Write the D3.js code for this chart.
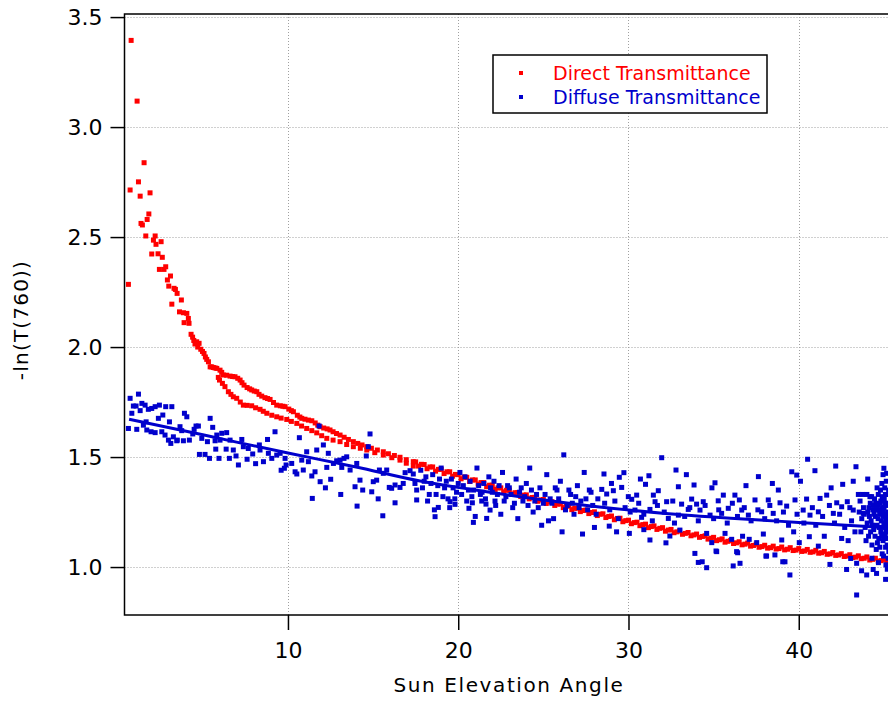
<!DOCTYPE html>
<html>
<head>
<meta charset="utf-8">
<script src="https://cdn.jsdelivr.net/npm/d3@7.9.0/dist/d3.min.js"></script>
<style>
  html, body { margin: 0; padding: 0; background: #fff; }
  svg { display: block; font-family: "DejaVu Sans", sans-serif; }
</style>
</head>
<body>
<svg id="chart" width="888" height="701"></svg>
<script>
// DATA
const xTicks = [10, 20, 30, 40];
const yTicks = [1.0, 1.5, 2.0, 2.5, 3.0, 3.5];
const seriesNames = ['Direct Transmittance', 'Diffuse Transmittance'];
const seriesColors = ['#ff0000', '#0000cc'];

// direct transmittance: [sun elevation, -ln(T)]
const direct = [
  [0.63,2.285],[0.73,2.714],[0.79,3.394],[1.14,3.118],[1.22,2.751],[1.32,2.686],[1.37,2.562],[1.45,2.555],
  [1.55,2.838],[1.65,2.505],[1.73,2.580],[1.83,2.605],[1.90,2.701],[2.0,2.423],[2.1,2.486],[2.2,2.505],
  [2.25,2.467],[2.37,2.424],[2.45,2.353],[2.55,2.479],[2.62,2.408],[2.72,2.353],[2.82,2.365],[2.92,2.305],
  [3.0,2.277],[3.1,2.323],[3.18,2.195],[3.31,2.267],[3.39,2.262],[3.49,2.244],[3.63,2.160],[3.74,2.214],
  [3.86,2.156],[3.9,2.111],[4.06,2.153],[4.15,2.130],[4.19,2.108],[4.31,2.058],[4.4,2.045],[4.47,2.03],
  [4.54,2.014],[4.64,2.024],[4.7,2.0],[4.78,2.017],[4.88,1.990],[4.98,1.98],[5.07,1.971],[5.15,1.955],
  [5.23,1.944],[5.33,1.933],[5.43,1.910],[5.52,1.91],[5.62,1.907],[5.72,1.905],[5.82,1.903],[5.91,1.862],
  [6.01,1.895],
  // upper branch
  [6.11,1.885],[6.21,1.873],[6.4,1.872],[6.6,1.868],[6.75,1.866],[6.89,1.865],[7.05,1.858],[7.19,1.850],
  [7.3,1.838],[7.42,1.827],[7.6,1.816],[7.75,1.81],[7.87,1.805],[8.02,1.8],[8.17,1.797],[8.3,1.785],
  [8.46,1.777],[8.65,1.77],[8.8,1.766],[8.95,1.762],[9.15,1.748],[9.34,1.736],[9.55,1.733],[9.7,1.731],
  [9.83,1.729],[10.05,1.718],[10.2,1.711],[10.32,1.706],[10.55,1.69],[10.7,1.682],[10.81,1.676],[11.0,1.672],
  [11.2,1.668],[11.4,1.665],[11.6,1.655],[11.75,1.645],[11.89,1.638],[12.1,1.632],[12.3,1.628],[12.47,1.623],
  [12.65,1.615],[12.85,1.607],[13.06,1.6],[13.3,1.59],[13.55,1.58],[13.84,1.570],[14.1,1.562],[14.35,1.555],
  [14.63,1.547],[14.9,1.54],[15.25,1.532],[15.6,1.524],[15.9,1.515],[16.25,1.507],[16.58,1.499],[16.95,1.488],
  [17.36,1.479],
  // lower branch
  [5.98,1.85],[6.15,1.835],[6.3,1.82],[6.5,1.797],[6.65,1.785],[6.79,1.774],[6.99,1.767],[7.2,1.75],
  [7.38,1.736],[7.6,1.735],[7.87,1.733],[8.1,1.724],[8.36,1.717],[8.55,1.708],[8.76,1.699],[9.05,1.69],
  [9.34,1.683],[9.6,1.677],[9.93,1.671],[10.2,1.662],[10.52,1.653],[10.8,1.641],[11.1,1.63],[11.4,1.62],
  [11.69,1.61],[11.98,1.597],[12.28,1.585],[12.65,1.577],[13.06,1.57],[13.45,1.557],[13.84,1.547],[14.25,1.54],
  [14.63,1.532],[15.1,1.52],[15.6,1.509],[16.1,1.497],[16.58,1.486],[16.95,1.472],[17.36,1.459],
  // merged band
  [17.5,1.478],[17.67,1.459],[17.84,1.467],[18.0,1.466],[18.17,1.447],[18.34,1.455],[18.5,1.455],[18.67,1.436],
  [18.84,1.444],[19.0,1.444],[19.17,1.425],[19.34,1.433],[19.5,1.433],[19.67,1.413],[19.84,1.421],[20.0,1.420],
  [20.17,1.401],[20.34,1.409],[20.5,1.408],[20.67,1.389],[20.84,1.396],[21.0,1.396],[21.17,1.377],[21.34,1.384],
  [21.5,1.384],[21.67,1.365],[21.84,1.372],[22.0,1.372],[22.17,1.353],[22.34,1.360],[22.5,1.360],[22.67,1.342],
  [22.84,1.349],[23.0,1.350],[23.17,1.332],[23.34,1.338],[23.5,1.339],[23.67,1.321],[23.84,1.327],[24.0,1.328],
  [24.17,1.310],[24.34,1.316],[24.5,1.317],[24.67,1.299],[24.84,1.305],[25.0,1.307],[25.17,1.289],[25.34,1.296],
  [25.5,1.297],[25.67,1.280],[25.84,1.286],[26.0,1.287],[26.17,1.270],[26.34,1.276],[26.5,1.278],[26.67,1.261],
  [26.84,1.267],[27.0,1.268],[27.17,1.252],[27.34,1.257],[27.5,1.259],[27.67,1.243],[27.84,1.248],[28.0,1.251],
  [28.17,1.234],[28.34,1.240],[28.5,1.242],[28.67,1.225],[28.84,1.230],[29.0,1.232],[29.17,1.215],[29.34,1.221],
  [29.5,1.222],[29.67,1.206],[29.84,1.211],[30.0,1.213],[30.17,1.197],[30.34,1.202],[30.5,1.204],[30.67,1.188],
  [30.84,1.193],[31.0,1.195],[31.17,1.179],[31.34,1.184],[31.5,1.187],[31.67,1.171],[31.84,1.176],[32.0,1.179],
  [32.17,1.163],[32.34,1.168],[32.5,1.171],[32.67,1.156],[32.84,1.160],[33.0,1.164],[33.17,1.149],[33.34,1.153],
  [33.5,1.157],[33.67,1.142],[33.84,1.146],[34.0,1.150],[34.17,1.135],[34.34,1.139],[34.5,1.142],[34.67,1.127],
  [34.84,1.131],[35.0,1.135],[35.17,1.120],[35.34,1.124],[35.5,1.128],[35.67,1.113],[35.84,1.117],[36.0,1.121],
  [36.17,1.107],[36.34,1.110],[36.5,1.115],[36.67,1.101],[36.84,1.104],[37.0,1.109],[37.17,1.095],[37.34,1.098],
  [37.5,1.104],[37.67,1.090],[37.84,1.093],[38.0,1.099],[38.17,1.086],[38.34,1.088],[38.5,1.095],[38.67,1.082],
  [38.84,1.084],[39.0,1.091],[39.17,1.078],[39.34,1.081],[39.5,1.088],[39.67,1.075],[39.84,1.077],[40.0,1.084],
  [40.17,1.071],[40.34,1.073],[40.5,1.080],[40.67,1.067],[40.84,1.069],[41.0,1.076],[41.17,1.063],[41.34,1.065],
  [41.5,1.071],[41.67,1.058],[41.84,1.060],[42.0,1.066],[42.17,1.053],[42.34,1.055],[42.5,1.061],[42.67,1.048],
  [42.84,1.050],[43.0,1.056],[43.17,1.043],[43.34,1.045],[43.5,1.051],[43.67,1.038],[43.84,1.040],[44.0,1.046],
  [44.17,1.032],[44.34,1.035],[44.5,1.040],[44.67,1.027],[44.84,1.029],[45.0,1.035],[45.17,1.021],[45.34,1.024]
];

// diffuse transmittance
const diffuse = [
  [0.73,1.767],[1.22,1.786],[0.92,1.732],[1.08,1.732],[0.83,1.699],[0.63,1.630],[1.42,1.744],[1.61,1.736],
  [1.32,1.711],[1.8,1.717],[2.0,1.721],[2.2,1.729],[2.45,1.736],[2.82,1.729],[3.18,1.729],[2.65,1.691],
  [2.39,1.676],[3.04,1.660],[3.92,1.699],[4.06,1.683],[5.43,1.676],[5.58,1.635],[1.12,1.626],[1.67,1.660],
  [1.51,1.645],[1.71,1.623],[1.96,1.615],[2.2,1.611],[2.59,1.615],[2.78,1.6],[2.98,1.577],[3.12,1.562],
  [3.27,1.592],[3.5,1.577],[3.66,1.638],[3.76,1.620],[3.47,1.574],[3.86,1.574],[4.21,1.577],[4.41,1.605],
  [4.6,1.641],[4.74,1.641],[4.49,1.626],[4.94,1.585],[5.27,1.57],[5.82,1.6],[6.11,1.608],[6.4,1.611],
  [6.01,1.577],[5.72,1.574],[4.8,1.512],[5.13,1.512],[5.39,1.494],[5.76,1.536],[5.95,1.494],[6.37,1.536],
  [6.56,1.494],[6.79,1.532],[6.95,1.505],[7.09,1.464],
  [6.6,1.577],[7.29,1.58],[7.38,1.547],[7.67,1.539],[7.93,1.514],[8.32,1.555],[8.36,1.532],[8.56,1.479],
  [8.85,1.517],[9.05,1.494],[9.24,1.615],[9.34,1.509],[9.54,1.517],[9.83,1.494],[9.79,1.449],[9.89,1.464],
  [10.22,1.471],[10.42,1.433],[10.52,1.423],[10.67,1.588],[10.81,1.486],[10.9,1.441],[11.1,1.524],[11.2,1.479],
  [11.4,1.414],[11.59,1.433],[11.69,1.532],[11.83,1.641],[11.89,1.388],[12.08,1.555],[12.28,1.453],[12.37,1.517],
  [12.51,1.399],[12.67,1.471],[12.86,1.483],[13.06,1.486],[13.16,1.453],[13.29,1.494],[13.45,1.501],[13.65,1.441],
  [13.94,1.365],[14.04,1.471],[14.23,1.395],[14.39,1.35],[14.72,1.547],[14.6,1.505],[14.82,1.605],[15.01,1.388],
  [15.21,1.395],[15.37,1.441],[15.6,1.426],[15.8,1.441],[15.95,1.362],[16.09,1.358],[16.29,1.373],[16.58,1.362],
  [16.77,1.380],[16.88,1.429],[17.17,1.438],[17.36,1.423],[17.46,1.380],[17.56,1.35],[14.92,1.342],[11.43,1.312],
  [15.57,1.233],[16.29,1.292],[17.56,1.305],[14.06,1.277],[13.1,1.33],[12.2,1.36],[15.3,1.31],[8.1,1.47],
  [9.6,1.44],[7.6,1.49],[8.8,1.58],
  [17.8,1.44],[18.0,1.39],[18.3,1.33],[18.5,1.42],[18.8,1.37],[19.0,1.45],[19.2,1.36],[19.4,1.31],
  [19.6,1.40],[19.9,1.34],[20.1,1.43],[20.3,1.37],[20.5,1.30],[20.7,1.39],[20.9,1.35],[21.1,1.45],
  [21.3,1.33],[21.5,1.38],[21.8,1.41],[22.0,1.34],[22.2,1.28],[22.4,1.37],[22.6,1.43],[22.8,1.32],
  [23.0,1.36],[23.2,1.27],[23.4,1.40],[23.6,1.34],[23.8,1.30],[24.0,1.38],[24.2,1.45],[24.4,1.25],
  [24.6,1.33],[24.8,1.36],[25.0,1.29],[25.2,1.42],[25.4,1.31],[25.6,1.22],[25.8,1.35],[26.0,1.39],
  [26.2,1.51],[26.4,1.28],[26.6,1.33],[26.8,1.24],[27.0,1.37],[27.2,1.30],[27.4,1.43],[27.6,1.26],
  [27.8,1.34],[28.0,1.18],[28.2,1.31],[24.9,1.19],[26.1,1.16],[27.3,1.15],[25.3,1.21],[23.5,1.22],
  [22.5,1.24],[21.0,1.23],[19.5,1.27],[18.6,1.26],
  [18.83,1.271],[18.64,1.229],[19.52,1.297],[19.81,1.285],[20.63,1.267],[20.89,1.203],[20.83,1.292],[21.38,1.3],
  [21.63,1.286],[21.87,1.259],[21.67,1.221],[22.16,1.3],
  [17.9,1.36],[18.1,1.41],[18.2,1.30],[18.4,1.38],[18.7,1.33],[18.9,1.40],[19.1,1.32],[19.3,1.39],
  [19.7,1.36],[19.8,1.31],[20.0,1.38],[20.2,1.33],[20.4,1.41],[20.6,1.35],[20.8,1.32],[21.2,1.37],
  [21.4,1.34],[21.6,1.31],[21.9,1.36],[22.1,1.39],[22.3,1.33],[22.7,1.30],[22.9,1.37],[23.1,1.33],
  [23.3,1.29],[23.7,1.36],[23.9,1.32],[24.1,1.28],[24.3,1.35],[24.5,1.30],[24.7,1.27],[25.1,1.33],
  [25.5,1.29],[25.7,1.36],[25.9,1.31],[26.3,1.26],[26.5,1.35],[26.7,1.29],[26.9,1.32],[27.1,1.27],
  [27.5,1.31],[27.7,1.35],[27.9,1.28],[28.1,1.24],
  [28.56,1.423],[29.46,1.408],[29.73,1.429],[31.95,1.497],[32.79,1.441],[31.2,1.415],[31.0,1.376],[28.43,1.353],
  [29.11,1.347],[29.6,1.362],[28.72,1.332],[29.99,1.320],[30.19,1.308],[30.48,1.327],[31.46,1.327],[31.75,1.347],
  [32.93,1.365],[33.85,1.373],[35.08,1.383],[37.63,1.411],[38.45,1.380],[39.59,1.433],[39.88,1.418],[40.52,1.490],
  [40.95,1.438],[42.17,1.459],[43.36,1.456],[42.58,1.376],[44.05,1.4],[45.0,1.449],[45.16,1.426],
  [31.56,1.297],[32.24,1.297],[33.12,1.286],[33.71,1.309],[34.0,1.286],[34.39,1.297],[35.27,1.301],[35.57,1.327],
  [36.25,1.327],[36.51,1.305],[37.43,1.305],[38.21,1.305],[38.9,1.292],[39.78,1.305],[40.46,1.309],[41.25,1.312],
  [41.64,1.327],[42.23,1.292],[42.85,1.297],[43.5,1.330],[44.18,1.320],[44.67,1.330],
  [30.38,1.259],[30.77,1.226],[31.26,1.262],[32.34,1.221],[32.93,1.236],[33.51,1.262],[34.2,1.259],[34.79,1.236],
  [35.47,1.244],[35.86,1.267],[36.65,1.259],[37.04,1.236],[37.82,1.251],[38.5,1.244],[39.29,1.277],[40.26,1.259],
  [40.66,1.236],[41.15,1.251],[42.03,1.244],[42.52,1.274],[43.2,1.259],[43.79,1.244],[44.37,1.282],[44.96,1.251],
  [28.87,1.186],[30.05,1.153],[31.26,1.123],[32.43,1.141],[33.02,1.168],[34.59,1.153],[34.89,1.111],[35.18,1.07],
  [35.67,1.153],[36.06,1.126],[36.35,1.07],[37.09,1.126],[37.53,1.111],[37.92,1.15],[38.11,1.05],[39.19,1.024],
  [39.0,1.123],[40.03,1.111],[40.62,1.138],[41.15,1.095],[41.83,1.012],[42.52,1.13],[42.81,0.989],[43.05,1.039],
  [43.4,1.017],[43.69,0.983],[43.99,0.964],[44.37,0.989],[44.57,0.971],[45.1,0.944],[39.48,0.964],[43.4,0.873],
  [33.9,1.062],[34.1,1.021],[34.33,1.024],[34.59,0.997],[36.15,1.005],[36.55,1.017],[39.06,1.024],[35.14,1.073],
  [36.41,1.065],[38.07,1.05],[38.6,1.055],
  [28.6,1.29],[28.9,1.26],[29.2,1.30],[29.4,1.22],[29.8,1.27],[30.1,1.25],[30.6,1.29],[30.9,1.24],
  [31.4,1.21],[31.7,1.28],[32.1,1.25],[32.6,1.30],[32.7,1.20],[33.3,1.23],[33.6,1.27],[34.1,1.21],
  [34.5,1.28],[35.0,1.22],[35.3,1.26],[35.8,1.20],[36.1,1.29],[36.4,1.23],[36.8,1.27],[37.2,1.21],
  [37.6,1.26],[38.0,1.22],[38.3,1.28],[38.7,1.21],[39.1,1.25],[39.4,1.19],[39.9,1.24],[40.3,1.20],
  [40.8,1.27],[41.0,1.19],[41.4,1.23],[41.8,1.28],[42.1,1.20],[42.4,1.24],[42.7,1.18],[43.0,1.27],
  [43.1,1.21],[43.3,1.16],[29.0,1.38],[30.7,1.40],[33.4,1.42],[34.9,1.36],[36.9,1.37],[38.8,1.35],
  [40.1,1.39],[41.9,1.36],[43.2,1.39],[32.2,1.11],[36.7,1.14],[39.7,1.16],[41.5,1.14],[42.9,1.12],
  [30.9,1.17],[29.3,1.16],
  [43.6,1.30],[43.7,1.22],[43.8,1.27],[43.9,1.18],[44.0,1.33],[44.05,1.25],[44.1,1.14],[44.2,1.29],
  [44.25,1.21],[44.3,1.10],[44.35,1.26],[44.4,1.17],[44.45,1.31],[44.5,1.23],[44.55,1.08],[44.6,1.19],
  [44.65,1.28],[44.7,1.13],[44.75,1.24],[44.8,1.35],[44.82,1.16],[44.85,1.21],[44.9,1.06],[44.92,1.27],
  [44.95,1.12],[45.0,1.19],[45.02,1.31],[45.05,1.24],[45.08,1.15],[45.1,1.09],[45.12,1.22],[45.15,1.28],
  [45.17,1.18],[45.2,1.13],[45.22,1.25],[45.25,1.04],[45.27,1.2],[44.88,1.38],[45.05,1.36],[45.18,1.33],
  [44.68,1.02],[45.12,1.01],[44.3,1.04],[45.2,0.99],[44.95,1.42],
  [43.55,1.25],[43.65,1.16],[43.75,1.33],[43.85,1.24],[43.95,1.12],[44.02,1.20],[44.12,1.27],[44.22,1.16],
  [44.28,1.32],[44.33,1.19],[44.42,1.24],[44.48,1.14],[44.52,1.29],[44.58,1.26],[44.62,1.11],[44.66,1.22],
  [44.72,1.18],[44.78,1.29],[44.84,1.25],[44.87,1.14],[44.9,1.32],[44.93,1.18],[44.97,1.23],[45.01,1.27],
  [45.03,1.13],[45.07,1.20],[45.09,1.33],[45.13,1.17],[45.16,1.24],[45.19,1.10],[45.21,1.29],[45.24,1.16],
  [45.26,1.22],[45.28,1.35],[45.29,1.07],[44.98,1.05],[44.76,1.09],[45.14,1.39],[44.6,1.36],[44.4,1.28],
  [44.15,1.23],[44.82,1.30],[45.23,1.19],[45.06,1.29],[44.7,1.26]
];

// fitted curve through the diffuse points
const diffuseFit = [
  [0.67,1.672],[5,1.601],[10,1.518],[14,1.455],[17.76,1.391],[21,1.35],[24.5,1.31],
  [28.3,1.273],[32,1.245],[36,1.222],[40,1.203],[45.3,1.178]
];

// CHART
const svg = d3.select('#chart');
const mLeft = 124.5, mTop = 14, mBottom = 615, mRight = 889;

const x = d3.scaleLinear().domain([0.4, 45.3]).range([mLeft, mRight]);
const y = d3.scaleLinear().domain([0.782, 3.514]).range([mBottom, mTop]);

// grid
const grid = svg.append('g')
  .attr('stroke', '#a0a0a0')
  .attr('stroke-width', 1)
  .attr('stroke-dasharray', '1,2');

grid.selectAll('.gx')
  .data(xTicks)
  .join('line')
  .attr('x1', d => Math.round(x(d)) + 0.5)
  .attr('x2', d => Math.round(x(d)) + 0.5)
  .attr('y1', mTop)
  .attr('y2', mBottom);

grid.selectAll('.gy')
  .data(yTicks)
  .join('line')
  .attr('x1', mLeft)
  .attr('x2', 888)
  .attr('y1', d => Math.round(y(d)) + 0.5)
  .attr('y2', d => Math.round(y(d)) + 0.5);

const sq = 5;

function drawPoints(data, color) {
  svg.append('g')
    .selectAll('rect')
    .data(data)
    .join('rect')
    .attr('x', d => x(d[0]) - sq / 2)
    .attr('y', d => y(d[1]) - sq / 2)
    .attr('width', sq)
    .attr('height', sq)
    .attr('fill', color);
}

drawPoints(direct, seriesColors[0]);
drawPoints(diffuse, seriesColors[1]);

svg.append('path')
  .datum(diffuseFit)
  .attr('fill', 'none')
  .attr('stroke', seriesColors[1])
  .attr('stroke-width', 3)
  .attr('d', d3.line().x(d => x(d[0])).y(d => y(d[1])).curve(d3.curveMonotoneX));

// frame
svg.append('rect')
  .attr('x', mLeft)
  .attr('y', mTop)
  .attr('width', 920 - mLeft)
  .attr('height', mBottom - mTop)
  .attr('fill', 'none')
  .attr('stroke', '#000')
  .attr('stroke-width', 1.5);

// axes
const yAxis = svg.append('g')
  .attr('transform', `translate(${mLeft},0)`)
  .call(d3.axisLeft(y).tickValues(yTicks).tickFormat(d3.format('.1f')).tickSize(14).tickPadding(8));

const xAxis = svg.append('g')
  .attr('transform', `translate(0,${mBottom})`)
  .call(d3.axisBottom(x).tickValues(xTicks).tickSize(15).tickPadding(12));

[yAxis, xAxis].forEach(a => {
  a.select('.domain').remove();
  a.selectAll('.tick line').attr('stroke', '#000').attr('stroke-width', 1.5);
  a.selectAll('.tick text')
    .attr('fill', '#000')
    .style('font-size', '22px')
    .style('font-family', '"DejaVu Sans", sans-serif');
});

// titles
svg.append('text')
  .attr('x', 509)
  .attr('y', 692)
  .attr('text-anchor', 'middle')
  .style('font-size', '20px')
  .style('letter-spacing', '1.6px')
  .text('Sun Elevation Angle');

svg.append('text')
  .attr('transform', 'translate(28,320) rotate(-90)')
  .attr('text-anchor', 'middle')
  .style('font-size', '20px')
  .style('letter-spacing', '1.2px')
  .text('-ln(T(760))');

// legend
const legend = svg.append('g');
legend.append('rect')
  .attr('x', 493)
  .attr('y', 55)
  .attr('width', 274)
  .attr('height', 58)
  .attr('fill', '#fff')
  .attr('stroke', '#000')
  .attr('stroke-width', 1.5);

seriesNames.forEach((name, i) => {
  legend.append('rect')
    .attr('x', 521 - 2)
    .attr('y', 73 + i * 24 - 2)
    .attr('width', 4)
    .attr('height', 4)
    .attr('fill', seriesColors[i]);
  legend.append('text')
    .attr('x', 553)
    .attr('y', 80 + i * 24)
    .attr('fill', seriesColors[i])
    .style('font-size', '19px')
    .text(name);
});
</script>
</body>
</html>
